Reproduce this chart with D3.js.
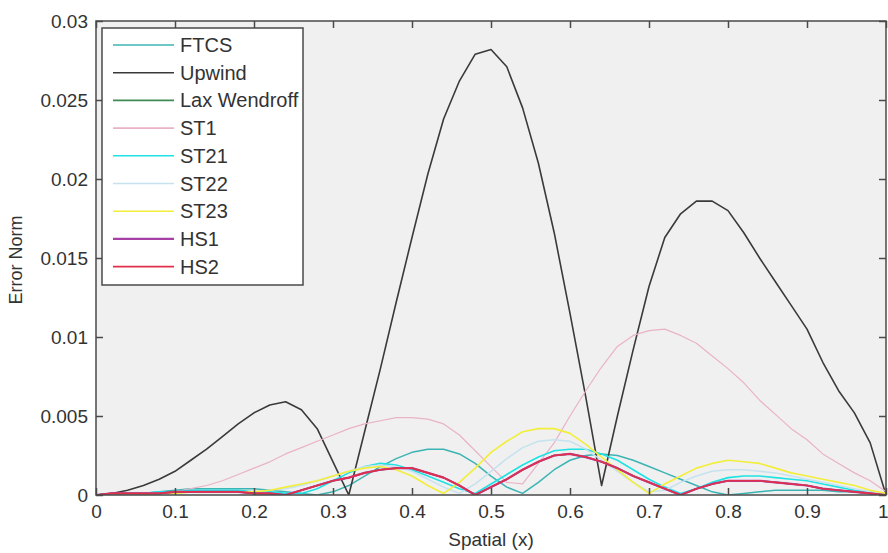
<!DOCTYPE html>
<html>
<head>
<meta charset="utf-8">
<script src="https://cdn.jsdelivr.net/npm/d3@7/dist/d3.min.js"></script>
<style>
  body { margin: 0; background: #fff; }
  text { font-family: "Liberation Sans", Arial, sans-serif; fill: #333; }
</style>
</head>
<body>
<div id="chart"></div>
<script>
// spatial grid (x)
var xs = [0, 0.02, 0.04, 0.06, 0.08, 0.1, 0.12, 0.14, 0.16, 0.18, 0.2, 0.22, 0.24, 0.26, 0.28, 0.3,
  0.32, 0.34, 0.36, 0.38, 0.4, 0.42, 0.44, 0.46, 0.48, 0.5, 0.52, 0.54, 0.56, 0.58, 0.6, 0.62, 0.64,
  0.66, 0.68, 0.7, 0.72, 0.74, 0.76, 0.78, 0.8, 0.82, 0.84, 0.86, 0.88, 0.9, 0.92, 0.94, 0.96, 0.98, 1];

var ftcs = [0, 0, 0.0001, 0.0001, 0.0002, 0.0003, 0.0004, 0.0004, 0.0004, 0.0004, 0.0004, 0.0003, 0.0002,
  0.0001, 0, 0.0002, 0.0006, 0.0012, 0.0018, 0.0023, 0.0027, 0.0029, 0.0029, 0.0026, 0.002, 0.0012,
  0.0005, 0.0001, 0.0008, 0.0016, 0.0022, 0.0025, 0.0026, 0.0025, 0.0022, 0.0018, 0.0014, 0.001,
  0.0006, 0.0002, 0, 0.0001, 0.0002, 0.0003, 0.0003, 0.0003, 0.0003, 0.0002, 0.0002, 0.0001, 0];

var upwind = [0, 0.0001, 0.0003, 0.0006, 0.001, 0.0015, 0.0022, 0.0029, 0.0037, 0.0045, 0.0052, 0.0057,
  0.0059, 0.0054, 0.0042, 0.0021, 0, 0.004, 0.008, 0.0122, 0.0163, 0.0203, 0.0238, 0.0262, 0.0279,
  0.0282, 0.0271, 0.0245, 0.021, 0.0166, 0.0115, 0.0062, 0.0006, 0.005, 0.0092, 0.0132, 0.0163,
  0.0178, 0.0186, 0.0186, 0.018, 0.0166, 0.015, 0.0135, 0.012, 0.0105, 0.0084, 0.0066, 0.0052,
  0.0033, 0];

var laxWendroff = [0, 0.0001, 0.0001, 0.0001, 0.0001, 0.0002, 0.0002, 0.0002, 0.0002, 0.0002, 0.0001,
  0.0001, 0, 0.0003, 0.0006, 0.0009, 0.0011, 0.0014, 0.0016, 0.0017, 0.0017, 0.0014, 0.0011, 0.0006,
  0, 0.0005, 0.001, 0.0016, 0.0021, 0.0025, 0.0026, 0.0024, 0.0021, 0.0017, 0.0012, 0.0008, 0.0004,
  0, 0.0004, 0.0007, 0.0009, 0.0009, 0.0009, 0.0008, 0.0007, 0.0006, 0.0004, 0.0003, 0.0002, 0.0001, 0];

var st1 = [0, 0, 0, 0.0001, 0.0001, 0.0002, 0.0004, 0.0006, 0.0009, 0.0013, 0.0017, 0.0021, 0.0026,
  0.003, 0.0034, 0.0038, 0.0042, 0.0045, 0.0047, 0.0049, 0.0049, 0.0048, 0.0045, 0.0038, 0.0028,
  0.0018, 0.0008, 0.0007, 0.002, 0.0033, 0.005, 0.0066, 0.0081, 0.0094, 0.0101, 0.0104, 0.0105,
  0.0101, 0.0096, 0.0088, 0.008, 0.0071, 0.006, 0.0051, 0.0042, 0.0035, 0.0026, 0.002, 0.0014,
  0.0009, 0.0002];

var st21 = [0, 0, 0.0001, 0.0001, 0.0002, 0.0002, 0.0003, 0.0003, 0.0003, 0.0003, 0.0002, 0.0002,
  0.0001, 0.0001, 0.0004, 0.0009, 0.0014, 0.0018, 0.002, 0.0019, 0.0016, 0.0012, 0.0008, 0.0004,
  0.0001, 0.0007, 0.0013, 0.0019, 0.0024, 0.0028, 0.0029, 0.0029, 0.0026, 0.0022, 0.0016, 0.001,
  0.0005, 0.0001, 0.0004, 0.0008, 0.0011, 0.0012, 0.0012, 0.0011, 0.001, 0.0009, 0.0007, 0.0005,
  0.0003, 0.0002, 0];

var st22 = [0, 0, 0, 0.0001, 0.0001, 0.0001, 0.0002, 0.0002, 0.0002, 0.0002, 0.0002, 0.0003, 0.0004,
  0.0006, 0.0009, 0.0012, 0.0015, 0.0018, 0.0019, 0.0018, 0.0015, 0.001, 0.0005, 0.0001, 0.0007,
  0.0015, 0.0023, 0.003, 0.0034, 0.0035, 0.0034, 0.0029, 0.0022, 0.0015, 0.0008, 0.0002, 0.0003,
  0.0008, 0.0012, 0.0015, 0.0016, 0.0016, 0.0015, 0.0014, 0.0012, 0.001, 0.0008, 0.0006, 0.0004,
  0.0002, 0.0001];

var st23 = [0, 0, 0, 0, 0.0001, 0.0001, 0.0002, 0.0002, 0.0002, 0.0002, 0.0002, 0.0003, 0.0005, 0.0007,
  0.0009, 0.0012, 0.0015, 0.0017, 0.0018, 0.0016, 0.0012, 0.0006, 0.0001, 0.0008, 0.0017, 0.0027,
  0.0034, 0.004, 0.0042, 0.0042, 0.0039, 0.0032, 0.0024, 0.0016, 0.0008, 0.0001, 0.0007, 0.0012,
  0.0017, 0.002, 0.0022, 0.0021, 0.002, 0.0017, 0.0014, 0.0012, 0.001, 0.0008, 0.0006, 0.0003, 0.0001];

var hs1 = [0, 0.0001, 0.0001, 0.0001, 0.0001, 0.0002, 0.0002, 0.0002, 0.0002, 0.0002, 0.0001, 0.0001,
  0, 0.0003, 0.0006, 0.0009, 0.0011, 0.0014, 0.0016, 0.0017, 0.0017, 0.0014, 0.0011, 0.0006, 0,
  0.0005, 0.001, 0.0016, 0.0021, 0.0025, 0.0026, 0.0024, 0.0021, 0.0017, 0.0012, 0.0008, 0.0004, 0,
  0.0004, 0.0007, 0.0009, 0.0009, 0.0009, 0.0008, 0.0007, 0.0006, 0.0004, 0.0003, 0.0002, 0.0001, 0];

var hs2 = [0, 0.0001, 0.0001, 0.0001, 0.0001, 0.0002, 0.0002, 0.0002, 0.0002, 0.0002, 0.0001, 0.0001,
  0, 0.0003, 0.0006, 0.0009, 0.0011, 0.0014, 0.0016, 0.0017, 0.0017, 0.0014, 0.0011, 0.0006, 0,
  0.0005, 0.001, 0.0016, 0.0021, 0.0025, 0.0026, 0.0024, 0.0021, 0.0017, 0.0012, 0.0008, 0.0004, 0,
  0.0004, 0.0007, 0.0009, 0.0009, 0.0009, 0.0008, 0.0007, 0.0006, 0.0004, 0.0003, 0.0002, 0.0001, 0];

var names = ["FTCS", "Upwind", "Lax Wendroff", "ST1", "ST21", "ST22", "ST23", "HS1", "HS2"];
var values = [ftcs, upwind, laxWendroff, st1, st21, st22, st23, hs1, hs2];
var colors = ["#3cb4b4", "#3a3a3a", "#3f8a55", "#eab2c8", "#1fe2e2", "#c6e2ee", "#f2ee3c", "#a63fa6", "#e2304a"];
var widths = [1.5, 1.6, 1.5, 1.2, 1.6, 1.5, 1.6, 2.2, 1.6];

var xTicks = [0, 0.1, 0.2, 0.3, 0.4, 0.5, 0.6, 0.7, 0.8, 0.9, 1];
var yTicks = [0, 0.005, 0.01, 0.015, 0.02, 0.025, 0.03];

var width = 888;
var height = 553;
var margin = { top: 21, left: 96, bottom: 58, right: 2 };
var w = width - margin.left - margin.right;
var h = height - margin.top - margin.bottom;

var svg = d3
  .select("#chart")
  .append("svg")
  .attr("width", width)
  .attr("height", height);

var g = svg.append("g").attr("transform", "translate(" + margin.left + "," + margin.top + ")");

var x = d3.scaleLinear().domain([0, 1]).range([0, w]);
var y = d3.scaleLinear().domain([0, 0.03]).range([h, 0]);

g.append("rect")
  .attr("width", w)
  .attr("height", h)
  .attr("fill", "#f0f0f0");

g.append("clipPath")
  .attr("id", "clip")
  .append("rect")
  .attr("width", w)
  .attr("height", h);

var line = d3
  .line()
  .x(function(d, i) {
    return x(xs[i]);
  })
  .y(function(d) {
    return y(d);
  });

g.append("g")
  .attr("clip-path", "url(#clip)")
  .selectAll(".series")
  .data(values)
  .enter()
  .append("path")
  .attr("class", "series")
  .attr("fill", "none")
  .attr("stroke", function(d, i) {
    return colors[i];
  })
  .attr("stroke-width", function(d, i) {
    return widths[i];
  })
  .attr("stroke-linejoin", "round")
  .attr("d", line);

// axes: ticks inside on all four sides
var tickLen = 7;
var axisColor = "#4a4a4a";

var axisB = g.append("g").attr("transform", "translate(0," + h + ")")
  .call(d3.axisBottom(x).tickValues(xTicks).tickSize(-tickLen).tickPadding(10)
    .tickFormat(function(d) { return d === 0 || d === 1 ? d : d3.format(".1f")(d); }));
var axisT = g.append("g")
  .call(d3.axisTop(x).tickValues(xTicks).tickSize(-tickLen).tickFormat(""));
var axisL = g.append("g")
  .call(d3.axisLeft(y).tickValues(yTicks).tickSize(-tickLen).tickPadding(8)
    .tickFormat(function(d) { return d === 0 ? "0" : String(+d.toFixed(3)); }));
var axisR = g.append("g").attr("transform", "translate(" + w + ",0)")
  .call(d3.axisRight(y).tickValues(yTicks).tickSize(-tickLen).tickFormat(""));

[axisB, axisT, axisL, axisR].forEach(function(a) {
  a.select(".domain").remove();
  a.selectAll(".tick line").attr("stroke", axisColor).attr("stroke-width", 1.5);
  a.selectAll(".tick text")
    .attr("fill", "#333")
    .attr("font-size", "19px")
    .attr("font-family", "Liberation Sans, Arial, sans-serif");
});

// last x label sits at the window edge; keep it inside
axisB.selectAll(".tick text")
  .filter(function(d) { return d === 1; })
  .attr("text-anchor", "end")
  .attr("x", 2);

g.append("rect")
  .attr("width", w)
  .attr("height", h)
  .attr("fill", "none")
  .attr("stroke", axisColor)
  .attr("stroke-width", 1.5);

svg.append("text")
  .attr("x", margin.left + x(0.5))
  .attr("y", 546)
  .attr("text-anchor", "middle")
  .attr("font-size", "19px")
  .text("Spatial (x)");

svg.append("text")
  .attr("transform", "translate(22," + (margin.top + h / 2 + 2) + ") rotate(-90)")
  .attr("text-anchor", "middle")
  .attr("font-size", "18px")
  .text("Error Norm");

// legend
var legend = g.append("g").attr("transform", "translate(6,7)");
legend.append("rect")
  .attr("width", 201)
  .attr("height", 257)
  .attr("fill", "#fff")
  .attr("stroke", axisColor)
  .attr("stroke-width", 1.5);

var rows = legend
  .selectAll(".row")
  .data(names)
  .enter()
  .append("g")
  .attr("class", "row")
  .attr("transform", function(d, i) {
    return "translate(0," + (17 + i * 27.7) + ")";
  });

rows.append("line")
  .attr("x1", 11)
  .attr("x2", 72)
  .attr("stroke", function(d, i) {
    return colors[i];
  })
  .attr("stroke-width", function(d, i) {
    return Math.max(widths[i], 1.6);
  });

rows.append("text")
  .attr("x", 78)
  .attr("y", 7)
  .attr("font-size", "20px")
  .text(function(d) {
    return d;
  });
</script>
</body>
</html>
